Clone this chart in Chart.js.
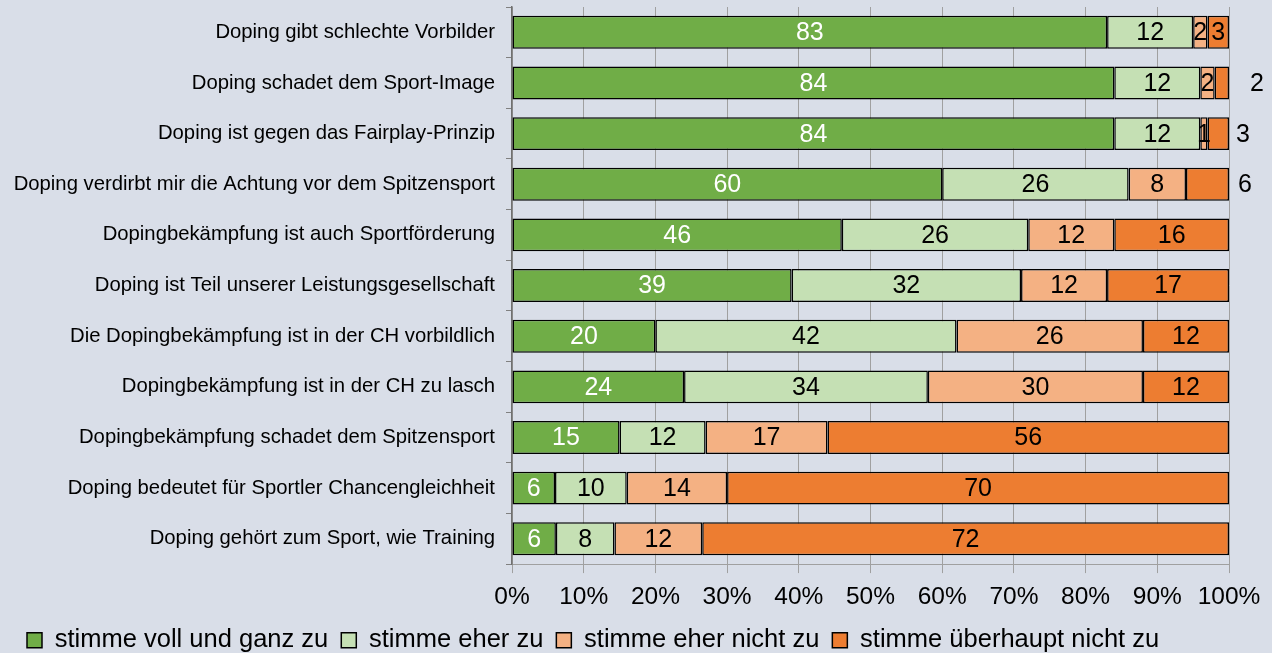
<!DOCTYPE html>
<html>
<head>
<meta charset="utf-8">
<script src="https://cdn.jsdelivr.net/npm/chart.js@4.4.1/dist/chart.umd.min.js"></script>
<style>
  html, body { margin: 0; padding: 0; background: #d9dee8; }
  #wrap { width: 1272px; height: 653px; position: relative; }
</style>
</head>
<body>
<div id="wrap"><canvas id="grafico"></canvas></div>
<script>
// Aussagen (von oben nach unten)
const categories = [
    'Doping gibt schlechte Vorbilder',
    'Doping schadet dem Sport-Image',
    'Doping ist gegen das Fairplay-Prinzip',
    'Doping verdirbt mir die Achtung vor dem Spitzensport',
    'Dopingbekämpfung ist auch Sportförderung',
    'Doping ist Teil unserer Leistungsgesellschaft',
    'Die Dopingbekämpfung ist in der CH vorbildlich',
    'Dopingbekämpfung ist in der CH zu lasch',
    'Dopingbekämpfung schadet dem Spitzensport',
    'Doping bedeutet für Sportler Chancengleichheit',
    'Doping gehört zum Sport, wie Training'
];

const seriesNames = [
    'stimme voll und ganz zu',
    'stimme eher zu',
    'stimme eher nicht zu',
    'stimme überhaupt nicht zu'
];

const vollZu = [83, 84, 84, 60, 46, 39, 20, 24, 15, 6, 6];
const eherZu = [12, 12, 12, 26, 26, 32, 42, 34, 12, 10, 8];
const eherNicht = [2, 2, 1, 8, 12, 12, 26, 30, 17, 14, 12];
const ueberhauptNicht = [3, 2, 3, 6, 16, 17, 12, 12, 56, 70, 72];

const xTicks = [0, 10, 20, 30, 40, 50, 60, 70, 80, 90, 100];

const series = [vollZu, eherZu, eherNicht, ueberhauptNicht];
const colors = ['#70ad47', '#c5e0b4', '#f4b183', '#ed7d31'];
const labelColors = ['#ffffff', '#000000', '#000000', '#000000'];

// Summe je Zeile, damit die Balken auf 100% gestreckt werden
const rowSums = categories.map((c, i) => series.reduce((s, arr) => s + arr[i], 0));

// Beschriftungen des letzten Segments, die rechts neben dem Balken stehen (Zeile: Abstand)
const outsideLabels = { 1: 28, 2: 14, 3: 16 };

const FONT = "'Liberation Sans', Arial, sans-serif";

// Werte in die Balken schreiben
const valueLabels = {
    id: 'valueLabels',
    afterDatasetsDraw(chart) {
        const ctx = chart.ctx;
        const area = chart.chartArea;
        ctx.save();
        ctx.font = '25px ' + FONT;
        ctx.textBaseline = 'middle';
        ctx.textAlign = 'center';
        chart.data.datasets.forEach((ds, di) => {
            const meta = chart.getDatasetMeta(di);
            meta.data.forEach((bar, i) => {
                const raw = series[di][i];
                let x = (bar.x + bar.base) / 2;
                ctx.fillStyle = labelColors[di];
                if (di === series.length - 1 && outsideLabels[i] !== undefined) {
                    x = area.right + outsideLabels[i];
                    ctx.fillStyle = '#000000';
                }
                ctx.fillText(String(raw), x, bar.y + 1);
            });
        });
        ctx.restore();
    }
};

const canvas = document.getElementById('grafico');
const ctx = canvas.getContext('2d');

new Chart(ctx, {
    type: 'bar',
    data: {
        labels: categories,
        datasets: series.map((arr, di) => ({
            label: seriesNames[di],
            data: arr.map((v, i) => v / rowSums[i] * 100),
            backgroundColor: colors[di],
            borderColor: '#000000',
            borderWidth: 1.5,
            borderSkipped: false,
            categoryPercentage: 0.65,
            barPercentage: 1.0
        }))
    },
    options: {
        indexAxis: 'y',
        responsive: true,
        maintainAspectRatio: false,
        animation: false,
        layout: {
            padding: { left: 14, right: 43, top: 7, bottom: -10 }
        },
        scales: {
            x: {
                stacked: true,
                min: 0,
                max: 100,
                afterBuildTicks: function (scale) {
                    scale.ticks = xTicks.map(v => ({ value: v }));
                },
                afterFit: function (scale) {
                    scale.height -= 6;
                },
                ticks: {
                    callback: function (v) { return v + '%'; },
                    color: '#000000',
                    font: { family: FONT, size: 24.5 },
                    padding: 9,
                    maxRotation: 0
                },
                grid: {
                    color: '#a0a0a0',
                    lineWidth: 1,
                    tickLength: 9
                },
                border: { color: '#a0a0a0', width: 1 }
            },
            y: {
                stacked: true,
                afterFit: function (scale) {
                    scale.width = 498;
                    scale.paddingTop = 0;
                    scale.paddingBottom = 0;
                },
                ticks: {
                    color: '#000000',
                    font: { family: FONT, size: 20.3 },
                    padding: 11
                },
                grid: {
                    drawOnChartArea: false,
                    color: '#808080',
                    tickLength: 6
                },
                border: { color: '#707070', width: 1.5 }
            }
        },
        plugins: {
            legend: {
                position: 'bottom',
                align: 'start',
                labels: {
                    color: '#000000',
                    font: { family: FONT, size: 25.5 },
                    boxWidth: 15,
                    boxHeight: 15,
                    padding: 13
                }
            },
            tooltip: { enabled: false }
        }
    },
    plugins: [valueLabels]
});
</script>
</body>
</html>
